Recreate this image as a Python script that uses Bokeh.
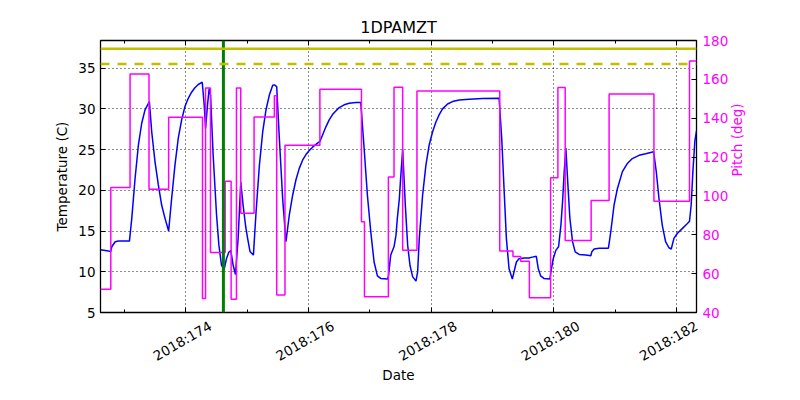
import math
from bokeh.plotting import figure
from bokeh.models import Range1d, LinearAxis, FixedTicker, Span, CustomJSTickFormatter
from bokeh.embed import file_html
from bokeh.resources import INLINE

FONT = "DejaVu Sans"

# ---------------- data ----------------
title_text = "1DPAMZT"
x_label = "Date"
temp_label = "Temperature (C)"
pitch_label = "Pitch (deg)"

x_start, x_end = 172.607, 182.325          # day of year 2018
temp_min, temp_max = 5.0, 38.4
pitch_min, pitch_max = 40.0, 180.0

x_major_ticks = [174, 176, 178, 180, 182]
x_minor_ticks = [173, 175, 177, 179, 181]
x_tick_labels = ["2018:174", "2018:176", "2018:178", "2018:180", "2018:182"]
temp_ticks = [5, 10, 15, 20, 25, 30, 35]
pitch_ticks = [40, 60, 80, 100, 120, 140, 160, 180]

planning_limit = 37.4
caution_limit = 35.5
event_time = 174.611

temp_time = [
    172.607, 172.737, 172.775, 172.791, 172.846, 172.900, 173.079, 173.117, 173.171, 173.225,
    173.279, 173.333, 173.404, 173.442, 173.496, 173.550, 173.604, 173.659, 173.718, 173.767,
    173.821, 173.875, 173.930, 173.984, 174.038, 174.092, 174.146, 174.201, 174.266, 174.298,
    174.320, 174.352, 174.379, 174.401, 174.444, 174.499, 174.537, 174.580, 174.623, 174.661,
    174.699, 174.732, 174.770, 174.808, 174.851, 174.894, 174.932, 174.975, 175.008, 175.046,
    175.100, 175.144, 175.198, 175.252, 175.306, 175.360, 175.415, 175.442, 175.480, 175.523,
    175.577, 175.631, 175.686, 175.740, 175.794, 175.848, 175.902, 175.957, 176.011, 176.065,
    176.146, 176.184, 176.228, 176.282, 176.336, 176.390, 176.444, 176.499, 176.580, 176.661,
    176.770, 176.851, 176.905, 176.959, 177.014, 177.068, 177.122, 177.176, 177.285, 177.301,
    177.339, 177.393, 177.425, 177.447, 177.480, 177.501, 177.534, 177.577, 177.615, 177.653,
    177.696, 177.751, 177.778, 177.805, 177.859, 177.913, 177.967, 178.022, 178.076, 178.130,
    178.184, 178.266, 178.347, 178.455, 178.618, 178.835, 179.106, 179.149, 179.187, 179.225,
    179.268, 179.322, 179.350, 179.388, 179.431, 179.512, 179.593, 179.648, 179.713, 179.745,
    179.783, 179.837, 179.935, 179.951, 179.989, 180.033, 180.076, 180.114, 180.141, 180.168,
    180.195, 180.228, 180.260, 180.304, 180.347, 180.412, 180.520, 180.602, 180.618, 180.656,
    180.737, 180.889, 180.927, 180.981, 181.035, 181.117, 181.198, 181.279, 181.388, 181.496,
    181.626, 181.669, 181.713, 181.767, 181.821, 181.875, 181.913, 181.957, 182.011, 182.092,
    182.173, 182.211, 182.238, 182.266, 182.298, 182.325,
]
temp_value = [
    12.70, 12.54, 12.50, 13.07, 13.69, 13.77, 13.77, 16.56, 21.48, 25.57,
    28.24, 29.88, 30.90, 27.20, 23.50, 20.66, 18.20, 16.56, 15.00, 19.00,
    23.10, 26.40, 28.65, 30.30, 31.30, 32.05, 32.60, 33.00, 33.28, 30.50,
    27.60, 30.50, 32.50, 31.70, 24.30, 17.00, 13.30, 10.80, 10.30, 11.60,
    12.40, 12.60, 10.80, 9.67, 14.10, 21.00, 18.20, 15.50, 14.00, 12.45,
    12.05, 17.40, 23.10, 27.20, 29.90, 31.70, 32.90, 32.95, 32.75, 26.40,
    19.00, 13.70, 17.00, 19.40, 21.30, 22.70, 23.70, 24.40, 24.90, 25.30,
    25.80, 26.00, 26.80, 27.80, 28.65, 29.30, 29.75, 30.16, 30.50, 30.70,
    30.80, 30.80, 25.20, 19.40, 14.90, 11.20, 9.50, 9.18, 9.10, 9.40,
    12.05, 13.07, 14.50, 16.56, 19.00, 21.50, 25.00, 18.20, 13.30, 10.80,
    9.40, 8.85, 10.00, 14.10, 19.40, 23.10, 25.60, 27.20, 28.40, 29.30,
    30.00, 30.60, 30.90, 31.10, 31.20, 31.27, 31.30, 26.40, 20.20, 14.10,
    10.40, 9.10, 10.00, 11.20, 11.60, 11.70, 11.70, 11.80, 11.90, 10.40,
    9.50, 9.18, 9.10, 10.00, 11.60, 12.66, 13.07, 15.70, 18.60, 22.30,
    25.20, 20.70, 16.60, 13.70, 12.45, 12.13, 12.05, 11.97, 12.45, 12.80,
    12.90, 12.90, 14.90, 18.20, 20.20, 22.30, 23.30, 23.90, 24.30, 24.50,
    24.75, 22.30, 19.00, 15.70, 13.70, 12.95, 12.80, 14.10, 14.70, 15.30,
    15.90, 16.20, 18.20, 22.30, 26.00, 27.30,
]

# pitch is piecewise constant: segment i spans pitch_bounds[i] .. pitch_bounds[i+1]
pitch_bounds = [
    172.607, 172.775, 173.089, 173.398, 173.718, 174.270, 174.320, 174.400, 174.640, 174.737,
    174.824, 174.894, 175.111, 175.442, 175.480, 175.615, 176.184, 176.862, 176.911, 177.301,
    177.393, 177.534, 177.767, 179.117, 179.333, 179.458, 179.600, 179.946, 180.065, 180.184,
    180.607, 180.900, 181.631, 182.211, 182.325,
]
pitch_value = [
    52.0, 104.4, 162.7, 103.5, 140.5, 47.2, 155.6, 70.9, 107.6, 46.8,
    155.6, 91.1, 140.6, 151.5, 49.0, 126.1, 154.9, 86.7, 48.1, 109.8,
    156.0, 72.1, 154.0, 71.6, 68.8, 66.4, 47.6, 109.3, 155.8, 77.0,
    97.7, 152.4, 97.2, 169.4,
]

pitch_x, pitch_y = [], []
for i, v in enumerate(pitch_value):
    pitch_x += [pitch_bounds[i], pitch_bounds[i + 1]]
    pitch_y += [v, v]

# ---------------- figure ----------------
p = figure(
    frame_width=596, frame_height=272,
    x_range=Range1d(x_start, x_end), y_range=Range1d(temp_min, temp_max),
    output_backend="svg", toolbar_location=None,
    min_border_left=100, min_border_right=104, min_border_top=40, min_border_bottom=88,
    background_fill_color="white", border_fill_color="white",
)
p.extra_y_ranges = {"pitch": Range1d(pitch_min, pitch_max)}

p.title.text = title_text
p.title.align = "center"
p.title.text_font = FONT
p.title.text_font_size = "16px"
p.title.text_font_style = "normal"
p.title.text_color = "black"
p.title.standoff = 8

p.outline_line_color = "black"
p.outline_line_width = 1.3
p.outline_line_alpha = 1.0

xt = FixedTicker(ticks=x_major_ticks, minor_ticks=x_minor_ticks)
yt = FixedTicker(ticks=temp_ticks, minor_ticks=[])

def style_axis(ax, color="black"):
    ax.axis_line_color = None
    ax.major_tick_in = 5
    ax.major_tick_out = 0
    ax.minor_tick_in = 3
    ax.minor_tick_out = 0
    ax.major_tick_line_color = "black"
    ax.minor_tick_line_color = "black"
    ax.major_label_text_font = FONT
    ax.major_label_text_font_size = "13.5px"
    ax.major_label_text_color = color
    ax.axis_label_text_font = FONT
    ax.axis_label_text_font_size = "13.5px"
    ax.axis_label_text_font_style = "normal"
    ax.axis_label_text_color = color

def hide_labels(ax):
    ax.major_label_text_font_size = "0px"
    ax.major_label_text_color = None
    ax.major_label_standoff = 0

# bottom axis: tick marks only
xa = p.xaxis[0]
xa.ticker = xt
style_axis(xa)
hide_labels(xa)

# bottom axis carrying the rotated, centred date labels (ticks invisible)
label_shift = 0.398   # days; centres the right-anchored rotated labels on the ticks
lab_ticks = [min(t + label_shift, x_end - 1e-6) for t in x_major_ticks]
la = LinearAxis(ticker=FixedTicker(ticks=lab_ticks, minor_ticks=[]),
                formatter=CustomJSTickFormatter(args=dict(labels=x_tick_labels),
                                                code="return labels[index];"))
style_axis(la)
la.major_tick_line_color = None
la.minor_tick_line_color = None
la.major_tick_in = 0
la.minor_tick_in = 0
la.major_label_orientation = math.pi / 6
la.major_label_standoff = 12
la.axis_label = x_label
la.axis_label_standoff = -7
p.add_layout(la, "below")

ya = p.yaxis[0]
ya.ticker = yt
style_axis(ya)
ya.axis_label = temp_label

pa = LinearAxis(y_range_name="pitch", ticker=FixedTicker(ticks=pitch_ticks, minor_ticks=[]))
style_axis(pa, "#ff00ff")
pa.major_tick_line_color = "black"
pa.major_label_standoff = 6
pa.axis_label = pitch_label
pa.axis_label_standoff = 6
try:
    pa.axis_label_orientation = math.pi / 2
except Exception:
    pass
p.add_layout(pa, "right")

ta = LinearAxis(ticker=FixedTicker(ticks=x_major_ticks, minor_ticks=x_minor_ticks))
style_axis(ta)
hide_labels(ta)
p.add_layout(ta, "above")

p.xgrid.ticker = xt
p.ygrid.ticker = yt
for g in (p.xgrid[0], p.ygrid[0]):
    g.grid_line_color = "black"
    g.grid_line_dash = "1 3"
    g.grid_line_width = 1
    g.grid_line_alpha = 0.9

# ---------------- marks ----------------
p.line(temp_time, temp_value, line_color="#0000ff", line_width=1.5)
p.line(pitch_x, pitch_y, y_range_name="pitch", line_color="#ff00ff", line_width=1.5)

p.add_layout(Span(location=event_time, dimension="height", line_color="#008000", line_width=3))
p.add_layout(Span(location=planning_limit, dimension="width", line_color="#bfbf00", line_width=2.5))
p.add_layout(Span(location=caution_limit, dimension="width", line_color="#bfbf00", line_width=2.5,
                  line_dash="9 8"))

open("out.html", "w").write(file_html(p, INLINE))
